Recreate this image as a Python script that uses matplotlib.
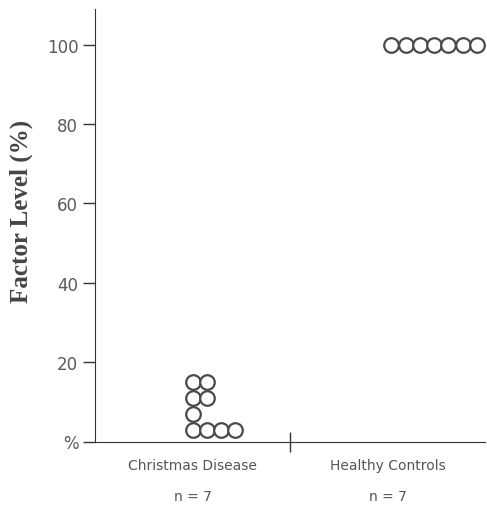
import matplotlib.pyplot as plt
from collections import Counter

groups = ['Christmas Disease', 'Healthy Controls']
counts = ['n = 7', 'n = 7']
christmas = [3, 3, 3, 3, 7, 11, 11, 15, 15]
healthy = [100, 100, 100, 100, 100, 100, 100]
yticks = [0, 20, 40, 60, 80, 100]
ytick_labels = ['%', '20', '40', '60', '80', '100']

fig = plt.figure(figsize=(4.87, 5.06), dpi=100)
ax = fig.add_axes([95 / 487, 63.5 / 506, 390 / 487, 432.5 / 506])

gray = '#4a4a4a'
step = 0.073  # horizontal spacing between stacked circles

for i, values in enumerate([christmas, healthy]):
    center = i + 0.5 + 0.02 * i
    seen = Counter()
    xs, ys = [], []
    for v in values:
        xs.append(center + seen[v] * step)
        ys.append(v)
        seen[v] += 1
    ax.plot(xs, ys, 'o', ms=10.5, mfc='white', mec=gray, mew=1.6, ls='none',
            clip_on=False)

ax.set_xlim(0, 2)
ax.set_ylim(0, 109)
ax.spines['top'].set_visible(False)
ax.spines['right'].set_visible(False)
ax.spines['left'].set_color('#333333')
ax.spines['bottom'].set_color('#333333')

ax.set_yticks(yticks)
ax.set_yticklabels(ytick_labels)
ax.tick_params(axis='y', direction='out', length=9, width=1, colors='#333333',
               labelsize=12, labelcolor='#5a5a5a', pad=3)

ax.set_xticks([1])
ax.set_xticklabels([''])
ax.tick_params(axis='x', which='major', direction='inout', length=14, width=1,
               colors='#333333')
ax.set_xticks([0.5, 1.5], minor=True)
ax.set_xticklabels([g + '\n\n' + n for g, n in zip(groups, counts)], minor=True,
                   fontsize=10, color='#555555', linespacing=1.15)
ax.tick_params(axis='x', which='minor', length=0, pad=12)

ax.set_ylabel('Factor Level (%)', family=['Liberation Serif', 'DejaVu Serif'],
              fontweight='bold', fontsize=18, color='#444444')
ax.yaxis.set_label_coords(-0.16, 0.535)

fig.savefig('out.png', dpi=100)
